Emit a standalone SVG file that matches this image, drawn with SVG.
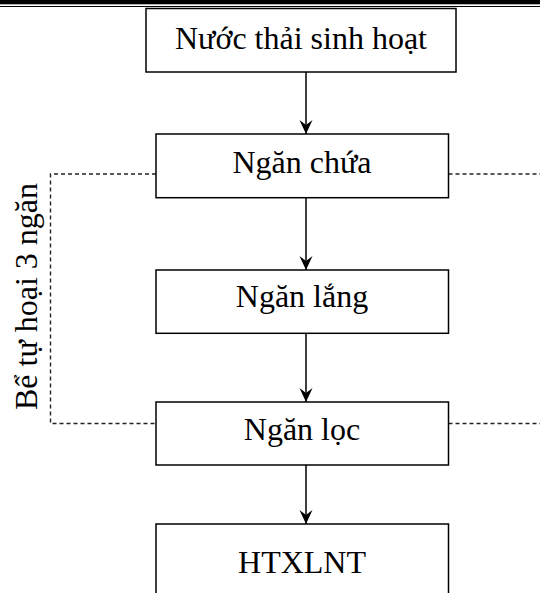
<svg xmlns="http://www.w3.org/2000/svg" width="540" height="593" viewBox="0 0 540 593">
  <style>
    .box { fill: #fff; stroke: #000; stroke-width: 1.5; }
    .lbl { font-family: "Liberation Serif", "Times New Roman", serif; font-size: 32px; fill: #000; text-anchor: middle; }
    .flow { stroke: #000; stroke-width: 1.5; fill: none; marker-end: url(#head); }
    .group { stroke: #222; stroke-width: 1.4; fill: none; stroke-dasharray: 4 3; }
  </style>
  <defs>
    <!-- concave arrowhead, tip at the line end -->
    <marker id="head" markerUnits="userSpaceOnUse" markerWidth="16" markerHeight="16" viewBox="-16 -8 16 16" refX="0" refY="0" orient="auto">
      <path d="M0,0 L-14,-6.5 L-9,0 L-14,6.5 Z" fill="#000"/>
    </marker>
  </defs>

  <!-- page header rule -->
  <rect x="0" y="0" width="540" height="4.3" fill="#000"/>
  <line x1="0" y1="6.5" x2="540" y2="6.5" stroke="#000" stroke-width="1"/>

  <!-- septic tank outline and label -->
  <g id="septic-tank">
    <polyline class="group" points="156,174 50.5,174 50.5,423.5 156,423.5"/>
    <line class="group" x1="448.5" y1="174" x2="540" y2="174"/>
    <line class="group" x1="448.5" y1="423.5" x2="540" y2="423.5"/>
    <text class="lbl" transform="translate(37,296.5) rotate(-90)">Bể tự hoại 3 ngăn</text>
  </g>

  <!-- connectors -->
  <g id="connectors">
    <line class="flow" x1="306" y1="72" x2="306" y2="134"/>
    <line class="flow" x1="306" y1="197.7" x2="306" y2="270"/>
    <line class="flow" x1="306" y1="333.3" x2="306" y2="402"/>
    <line class="flow" x1="306" y1="465" x2="306" y2="524"/>
  </g>

  <g id="n-wastewater">
    <rect class="box" x="146" y="8.5" width="310" height="63.5"/>
    <text class="lbl" x="301" y="49">Nước thải sinh hoạt</text>
  </g>
  <g id="n-holding">
    <rect class="box" x="156" y="134" width="292.5" height="63.7"/>
    <text class="lbl" x="302" y="173.3">Ngăn chứa</text>
  </g>
  <g id="n-settling">
    <rect class="box" x="156" y="270" width="292.5" height="63.3"/>
    <text class="lbl" x="302" y="306.5">Ngăn lắng</text>
  </g>
  <g id="n-filter">
    <rect class="box" x="156" y="402" width="292.5" height="63"/>
    <text class="lbl" x="302" y="440">Ngăn lọc</text>
  </g>
  <g id="n-treatment">
    <rect class="box" x="156" y="524" width="292.5" height="80"/>
    <text class="lbl" x="302" y="573.3">HTXLNT</text>
  </g>
</svg>
